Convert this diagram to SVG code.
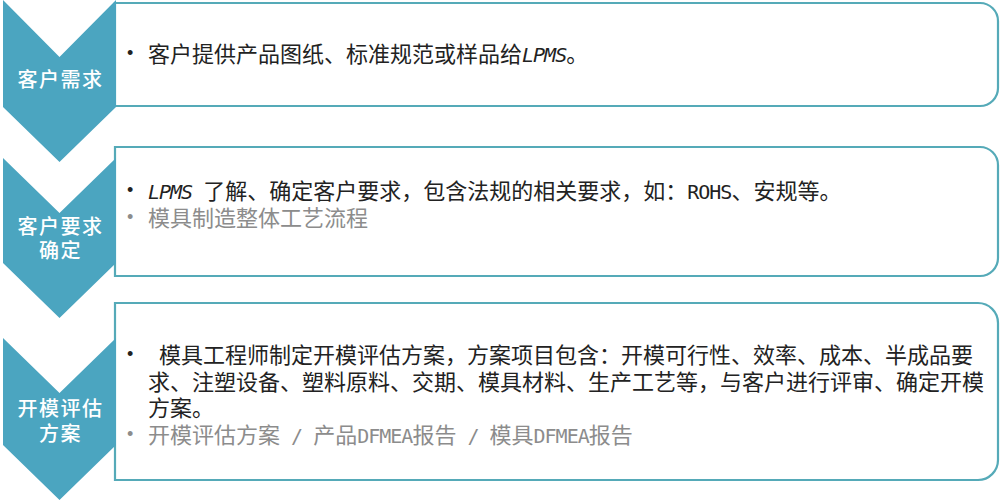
<svg xmlns="http://www.w3.org/2000/svg" width="1000" height="501" viewBox="0 0 1000 501">
<style>
.box{fill:#ffffff;stroke:#55AAB8;stroke-width:2.2}
.chev{fill:#4BA5C0}
.lbl{font-family:"Noto Sans CJK SC","Noto Sans",sans-serif;font-size:20px;fill:#ffffff;text-anchor:middle;letter-spacing:1.5px;font-weight:500}
.t{font-family:"Noto Sans CJK SC","Noto Sans",sans-serif;font-size:22px;fill:#222222}
.g{fill:#8C8C8C}
.m{font-family:"DejaVu Sans Mono","Liberation Mono",monospace;font-size:20px;letter-spacing:-1px}
.i{font-style:italic}
.b{font-family:"Liberation Sans",sans-serif;font-size:18px}
</style>
<rect width="1000" height="501" fill="#ffffff"/>
<g id="row1">
  <path class="box" d="M115,3 H980 A18,18 0 0 1 998,21 V88 A18,18 0 0 1 980,106 H115 Z"/>
  <path class="chev" d="M3,0 L59.5,57 L116,0 L116,107 L59.5,162 L3,107 Z"/>
  <text class="lbl" x="60.5" y="86.5">客户需求</text>
  <text class="t b" x="127" y="59">•</text>
  <text class="t" x="148" y="62">客户提供产品图纸、标准规范或样品给<tspan class="m i">LPMS</tspan>。</text>
</g>
<g id="row2">
  <path class="box" d="M115,147 H980 A18,18 0 0 1 998,165 V258 A18,18 0 0 1 980,276 H115 Z"/>
  <path class="chev" d="M3,158 L59.5,213 L116,158 L116,263 L59.5,318 L3,263 Z"/>
  <text class="lbl" x="60.5" y="233.5">客户要求</text>
  <text class="lbl" x="60.5" y="257.5">确定</text>
  <text class="t b" x="127" y="196">•</text>
  <text class="t" x="148" y="199"><tspan class="m i">LPMS </tspan>了解、确定客户要求，包含法规的相关要求，如：<tspan class="m">ROHS</tspan>、安规等。</text>
  <text class="t b g" x="127" y="223">•</text>
  <text class="t g" x="148" y="226">模具制造整体工艺流程</text>
</g>
<g id="row3">
  <path class="box" d="M115,303 H978 A20,20 0 0 1 998,323 V460 A20,20 0 0 1 978,480 H115 Z"/>
  <path class="chev" d="M3,338 L59.5,393 L116,338 L116,445 L59.5,500 L3,445 Z"/>
  <text class="lbl" x="60.5" y="415.5">开模评估</text>
  <text class="lbl" x="60.5" y="440.5">方案</text>
  <text class="t b" x="127" y="360">•</text>
  <text class="t" x="159" y="363">模具工程师制定开模评估方案，方案项目包含：开模可行性、效率、成本、半成品要</text>
  <text class="t" x="148" y="390">求、注塑设备、塑料原料、交期、模具材料、生产工艺等，与客户进行评审、确定开模</text>
  <text class="t" x="148" y="416">方案。</text>
  <text class="t b g" x="127" y="440">•</text>
  <text class="t g" x="148" y="443">开模评估方案<tspan class="m"> / </tspan>产品<tspan class="m">DFMEA</tspan>报告<tspan class="m"> / </tspan>模具<tspan class="m">DFMEA</tspan>报告</text>
</g>
</svg>
